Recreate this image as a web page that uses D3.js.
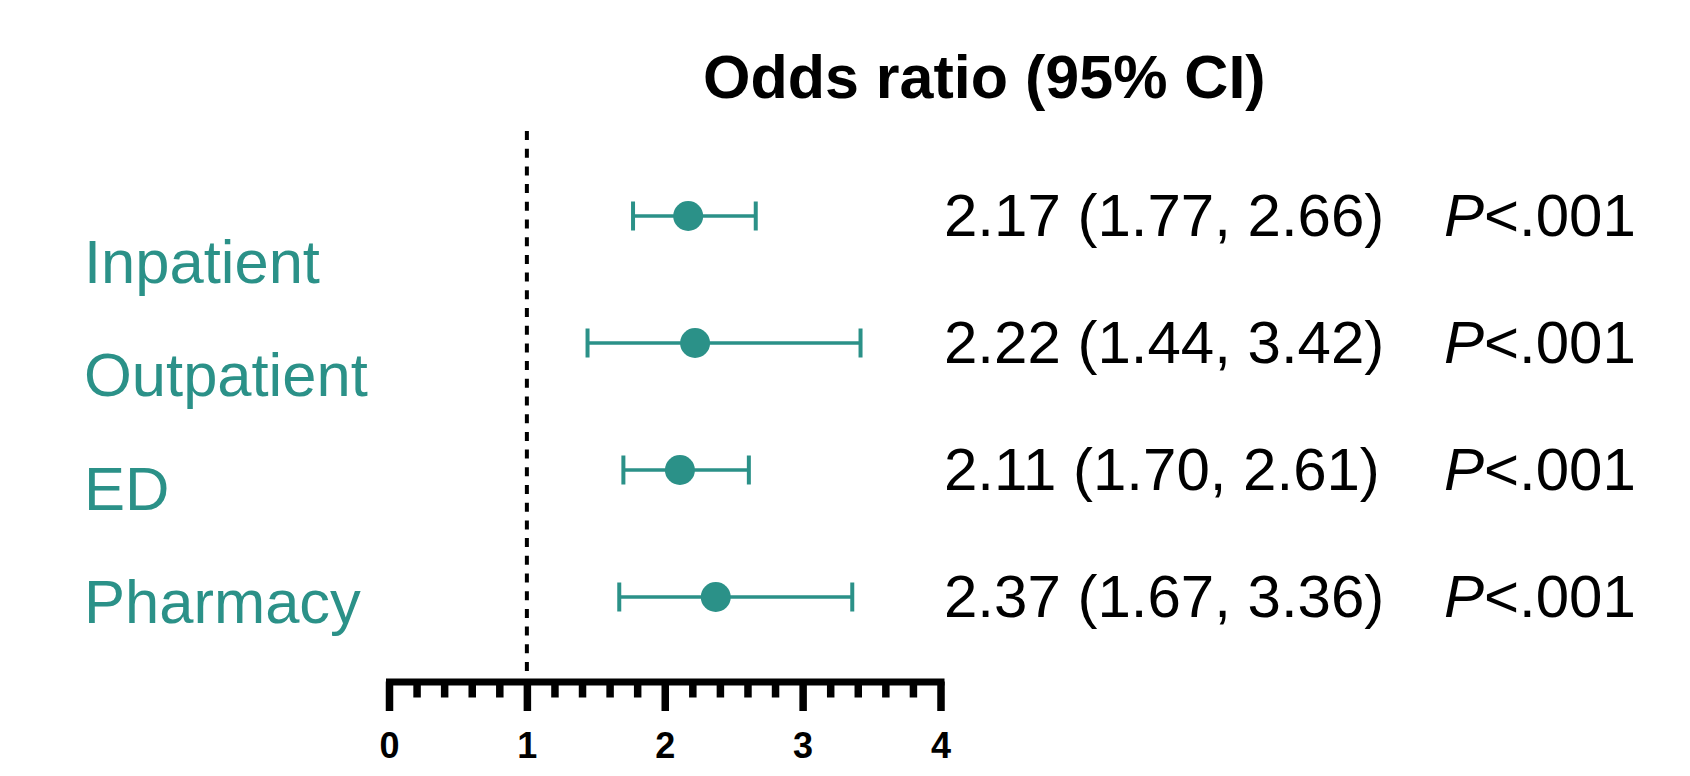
<!DOCTYPE html>
<html>
<head>
<meta charset="utf-8">
<script src="https://cdn.jsdelivr.net/npm/d3@7"></script>
<style>
  body { margin: 0; background: #fff; }
  svg { display: block; font-family: "Liberation Sans", Arial, sans-serif; }
</style>
</head>
<body>
<div id="app"></div>
<script>
// data
var categories = ['Inpatient', 'Outpatient', 'ED', 'Pharmacy'];
var oddsRatio = [2.17, 2.22, 2.11, 2.37];
var ciLower = [1.77, 1.44, 1.70, 1.67];
var ciUpper = [2.66, 3.42, 2.61, 3.36];
var pValues = ['<.001', '<.001', '<.001', '<.001'];
var majorTicks = [0, 1, 2, 3, 4];
var minorTicks = [0.2, 0.4, 0.6, 0.8, 1.2, 1.4, 1.6, 1.8, 2.2, 2.4, 2.6, 2.8, 3.2, 3.4, 3.6, 3.8];
var refValue = 1;
var title = 'Odds ratio (95% CI)';

var width = 1690,
    height = 776,
    teal = '#2b9188',
    axisY = 681.5;

var svg = d3.select('#app').append('svg').attr('width', width).attr('height', height);

var x = d3.scaleLinear().domain([0, 4]).range([389, 940.5]);
var y = d3.scalePoint().domain(categories).range([216, 597]);
// row labels sit on their own spacing, a bit below the marks
var yLabel = d3.scalePoint().domain(categories).range([283, 623]);

var fmt = d3.format('.2f');

var rows = categories.map(function(c, i) {
    return {cat: c, or: oddsRatio[i], lo: ciLower[i], hi: ciUpper[i], p: pValues[i]};
});

// title
svg.append('text')
    .attr('x', 703).attr('y', 97.5)
    .attr('font-size', 61).attr('font-weight', 'bold')
    .text(title);

// reference line at OR = 1
svg.append('line')
    .attr('x1', x(refValue)).attr('x2', x(refValue))
    .attr('y1', 131).attr('y2', 673)
    .attr('stroke', '#000').attr('stroke-width', 4)
    .attr('stroke-dasharray', '9 8.7');

// minor ticks
svg.append('g')
    .attr('transform', 'translate(0,' + axisY + ')')
    .call(d3.axisBottom(x).tickValues(minorTicks).tickSize(16).tickSizeOuter(0).tickFormat(''))
    .call(function(g) {
        g.select('.domain').remove();
        g.selectAll('.tick line').attr('stroke', '#000').attr('stroke-width', 7.5);
    });

// major ticks + axis line
svg.append('g')
    .attr('transform', 'translate(0,' + axisY + ')')
    .call(d3.axisBottom(x).tickValues(majorTicks).tickSize(29.5).tickSizeOuter(0).tickPadding(21).tickFormat(d3.format('d')))
    .call(function(g) {
        g.select('.domain').attr('stroke', '#000').attr('stroke-width', 7).attr('stroke-linecap', 'square');
        g.selectAll('.tick line').attr('stroke', '#000').attr('stroke-width', 7.5);
        g.selectAll('.tick text')
            .attr('fill', '#000')
            .attr('font-size', 36).attr('font-weight', 'bold')
            .attr('font-family', '"Liberation Sans", Arial, sans-serif');
    });

var row = svg.append('g').selectAll('g').data(rows).enter().append('g');

// CI whiskers
row.append('line')
    .attr('x1', function(d) { return x(d.lo); })
    .attr('x2', function(d) { return x(d.hi); })
    .attr('y1', function(d) { return y(d.cat); })
    .attr('y2', function(d) { return y(d.cat); })
    .attr('stroke', teal).attr('stroke-width', 3.5);

['lo', 'hi'].forEach(function(k) {
    row.append('line')
        .attr('x1', function(d) { return x(d[k]); })
        .attr('x2', function(d) { return x(d[k]); })
        .attr('y1', function(d) { return y(d.cat) - 14.5; })
        .attr('y2', function(d) { return y(d.cat) + 14.5; })
        .attr('stroke', teal).attr('stroke-width', 4);
});

row.append('circle')
    .attr('cx', function(d) { return x(d.or); })
    .attr('cy', function(d) { return y(d.cat); })
    .attr('r', 15)
    .attr('fill', teal);

// estimate text
row.append('text')
    .attr('x', 944)
    .attr('y', function(d) { return y(d.cat); })
    .attr('dy', '0.33em')
    .attr('font-size', 60)
    .text(function(d) { return fmt(d.or) + ' (' + fmt(d.lo) + ', ' + fmt(d.hi) + ')'; });

var pt = row.append('text')
    .attr('x', 1444)
    .attr('y', function(d) { return y(d.cat); })
    .attr('dy', '0.33em')
    .attr('font-size', 60);
pt.append('tspan').attr('font-style', 'italic').text('P');
pt.append('tspan').text(function(d) { return d.p; });

// category labels
svg.append('g').selectAll('text').data(categories).enter().append('text')
    .attr('x', 84)
    .attr('y', function(d) { return yLabel(d); })
    .attr('font-size', 61.5)
    .attr('fill', teal)
    .text(function(d) { return d; });
</script>
</body>
</html>
